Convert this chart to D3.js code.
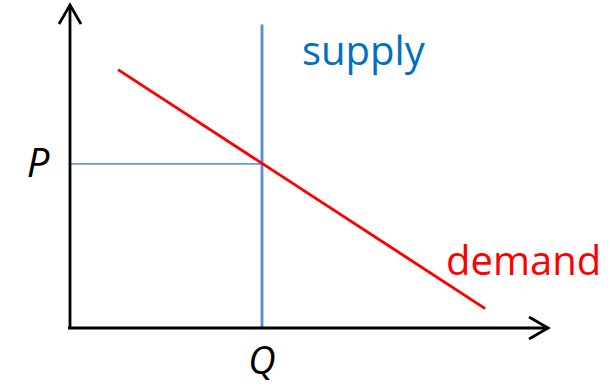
<!DOCTYPE html>
<html>
<head>
<meta charset="utf-8">
<script src="https://cdn.jsdelivr.net/npm/d3@7"></script>
<style>
  html, body { margin: 0; padding: 0; background: #fff; }
  svg { display: block; }
</style>
</head>
<body>
<svg id="chart" width="614" height="387"></svg>
<script>
// ---- data (in chart units, domain 0..10 on both axes) ----
const axisExtent = { x: 10, y: 10 };
const supplyQ = [4.0];                    // vertical supply line quantity
const supplyTop = [9.4];                  // top of supply line
const priceP = [5.08];                    // equilibrium price
const demandX = [1.0, 8.65];              // demand line endpoints, quantity
const demandY = [8.0, 0.6];               // demand line endpoints, price
const labels = ["P", "Q", "supply", "demand"];

const svg = d3.select("#chart");
const x = d3.scaleLinear().domain([0, 10]).range([70, 550]);
const y = d3.scaleLinear().domain([0, 10]).range([328, 5]);

const defs = svg.append("defs");
defs.append("marker")
  .attr("id", "arrow")
  .attr("viewBox", "0 0 24 24")
  .attr("refX", 21).attr("refY", 12)
  .attr("markerWidth", 24).attr("markerHeight", 24)
  .attr("markerUnits", "userSpaceOnUse")
  .attr("orient", "auto")
  .append("path")
  .attr("d", "M2,1 L21,12 L2,23")
  .attr("fill", "none")
  .attr("stroke", "#000")
  .attr("stroke-width", 2.8)
  .attr("stroke-linejoin", "miter");

const line = d3.line().x(d => x(d[0])).y(d => y(d[1]));

// horizontal price line
svg.append("path")
  .attr("d", line([[0, priceP[0]], [supplyQ[0], priceP[0]]]))
  .attr("stroke", "#6a98d8").attr("stroke-width", 1.7).attr("fill", "none");

// supply
svg.append("path")
  .attr("d", line([[supplyQ[0], 0], [supplyQ[0], supplyTop[0]]]))
  .attr("stroke", "#5b8fd6").attr("stroke-width", 2.9).attr("fill", "none");

// demand
svg.append("path")
  .attr("d", line(demandX.map((q, i) => [q, demandY[i]])))
  .attr("stroke", "#ff0000").attr("stroke-width", 2.9).attr("fill", "none");

// axes
svg.append("path")
  .attr("d", line([[0, 0], [0, axisExtent.y]]))
  .attr("stroke", "#000").attr("stroke-width", 2.8).attr("fill", "none")
  .attr("marker-end", "url(#arrow)");
svg.append("path")
  .attr("d", line([[-0.04, 0], [axisExtent.x * 0.996, 0]]))
  .attr("stroke", "#000").attr("stroke-width", 2.8).attr("fill", "none")
  .attr("marker-end", "url(#arrow)");

// labels
svg.append("text")
  .attr("x", 38).attr("y", y(priceP[0]) + 13)
  .attr("text-anchor", "middle")
  .attr("font-family", "'Open Sans', sans-serif")
  .attr("font-style", "italic")
  .attr("font-size", 40)
  .attr("fill", "#000")
  .text(labels[0]);

svg.append("text")
  .attr("x", x(supplyQ[0])).attr("y", 374)
  .attr("text-anchor", "middle")
  .attr("font-family", "'Open Sans', sans-serif")
  .attr("font-style", "italic")
  .attr("font-size", 38)
  .attr("fill", "#000")
  .text(labels[1]);

svg.append("text")
  .attr("x", 302).attr("y", 65)
  .attr("font-family", "'Open Sans', sans-serif")
  .attr("font-size", 40)
  .attr("fill", "#0070c0")
  .text(labels[2]);

svg.append("text")
  .attr("x", 446).attr("y", 275)
  .attr("font-family", "'Open Sans', sans-serif")
  .attr("font-size", 40)
  .attr("fill", "#ff0000")
  .text(labels[3]);
</script>
</body>
</html>
